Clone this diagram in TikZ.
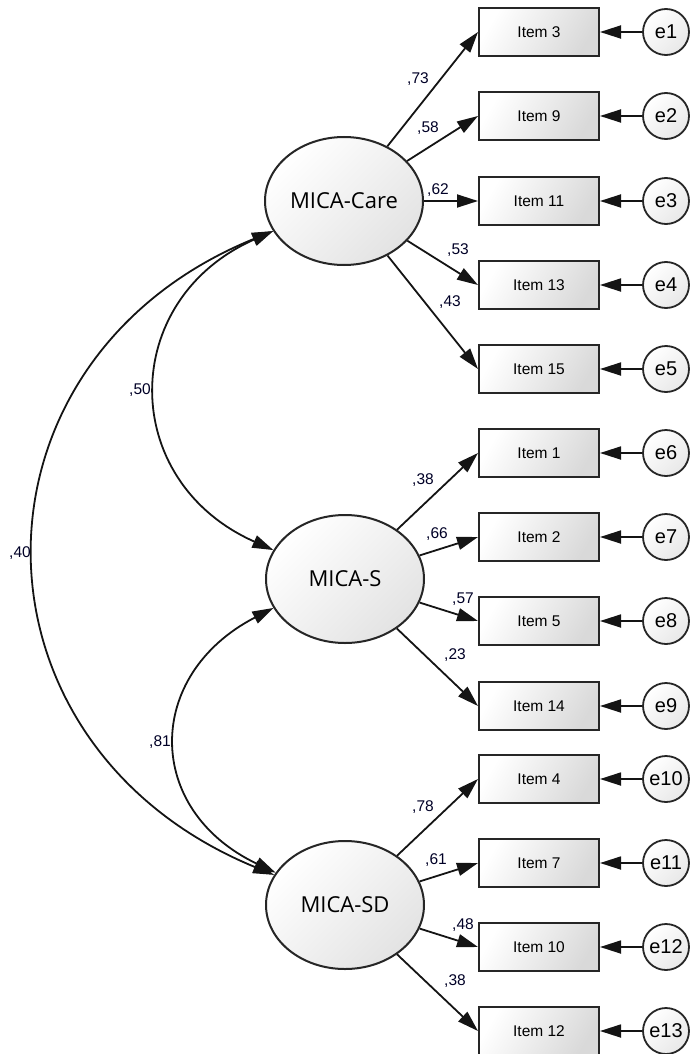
\documentclass[tikz,border=0pt]{standalone}
\usepackage{fontspec}
\setmainfont{Liberation Sans}
\newfontfamily\latfont{Open Sans}
\usetikzlibrary{arrows.meta,shapes.geometric}
\begin{document}
\begin{tikzpicture}[x=1pt,y=-1pt,
  arr/.style={-{Triangle[length=21pt,width=13pt]}, line width=1.8pt, draw=black!92},
  cov/.style={{Triangle[length=21pt,width=13pt]}-{Triangle[length=21pt,width=13pt]}, line width=1.8pt, draw=black!92},
  item/.style={draw=black!85, line width=2pt, minimum width=120pt, minimum height=48pt, shading=axis, top color=white, bottom color=black!15, shading angle=60, inner sep=0pt, font=\fontsize{15.5}{17}\selectfont},
  err/.style={circle, draw=black!85, line width=1.8pt, minimum size=46pt, inner sep=0pt, shading=axis, top color=white, bottom color=black!9, shading angle=45, font=\fontsize{20}{22}\selectfont},
  lat/.style={ellipse, draw=black!85, line width=2pt, minimum width=158pt, minimum height=128pt, shading=axis, top color=white, bottom color=black!11, shading angle=45, inner sep=0pt, font=\latfont\fontsize{22}{25}\selectfont},
  lab/.style={inner sep=0pt, text=black!85!blue, font=\fontsize{15.5}{17}\selectfont}
]
\useasboundingbox (0,0) rectangle (693,1054);

\node[lat] (care) at (344,201) {MICA-Care};
\node[lat] (s) at (345,579) {MICA-S};
\node[lat] (sd) at (345,905) {MICA-SD};

\foreach \n/\y/\t/\e in {i3/32/Item 3/e1, i9/116/Item 9/e2, i11/201/Item 11/e3, i13/285/Item 13/e4, i15/369/Item 15/e5,
  i1/453/Item 1/e6, i2/537/Item 2/e7, i5/621/Item 5/e8, i14/706/Item 14/e9,
  i4/779/Item 4/e10, i7/863/Item 7/e11, i10/947/Item 10/e12, i12/1031/Item 12/e13}{
  \node[item] (\n) at (539,\y) {\t};
  \node[err] (\e) at (666,\y) {\e};
  \draw[arr] (\e) -- (\n);
}

% loadings
\draw[arr] (care) -- (i3.west);
\draw[arr] (care) -- (i9.west);
\draw[arr] (care) -- (i11.west);
\draw[arr] (care) -- (i13.west);
\draw[arr] (care) -- (i15.west);
\draw[arr] (s) -- (i1.west);
\draw[arr] (s) -- (i2.west);
\draw[arr] (s) -- (i5.west);
\draw[arr] (s) -- (i14.west);
\draw[arr] (sd) -- (i4.west);
\draw[arr] (sd) -- (i7.west);
\draw[arr] (sd) -- (i10.west);
\draw[arr] (sd) -- (i12.west);

\node[lab] (l73) at (418,79) {,73};
\node[lab] (l58) at (428,128) {,58};
\node[lab] (l62) at (438,190) {,62};
\node[lab] (l53) at (458,250) {,53};
\node[lab] (l43) at (450,302) {,43};
\node[lab] (l38a) at (423,480) {,38};
\node[lab] (l66) at (437,534) {,66};
\node[lab] (l57) at (463,599) {,57};
\node[lab] (l23) at (455,655) {,23};
\node[lab] (l78) at (423,807) {,78};
\node[lab] (l61) at (436,860) {,61};
\node[lab] (l48) at (463,925) {,48};
\node[lab] (l38b) at (455,981) {,38};

% covariances
\draw[cov] (care.203) .. controls (118,300) and (118,481) .. (s.158);
\draw[cov] (care.203) .. controls (-44,360) and (-44,744) .. (sd.157);
\draw[cov] (s.202) .. controls (144,675) and (144,810) .. (sd.155);

\node[lab] (l50) at (140,390) {,50};
\node[lab] (l40) at (20,553) {,40};
\node[lab] (l81) at (160,742) {,81};
\end{tikzpicture}
\end{document}
